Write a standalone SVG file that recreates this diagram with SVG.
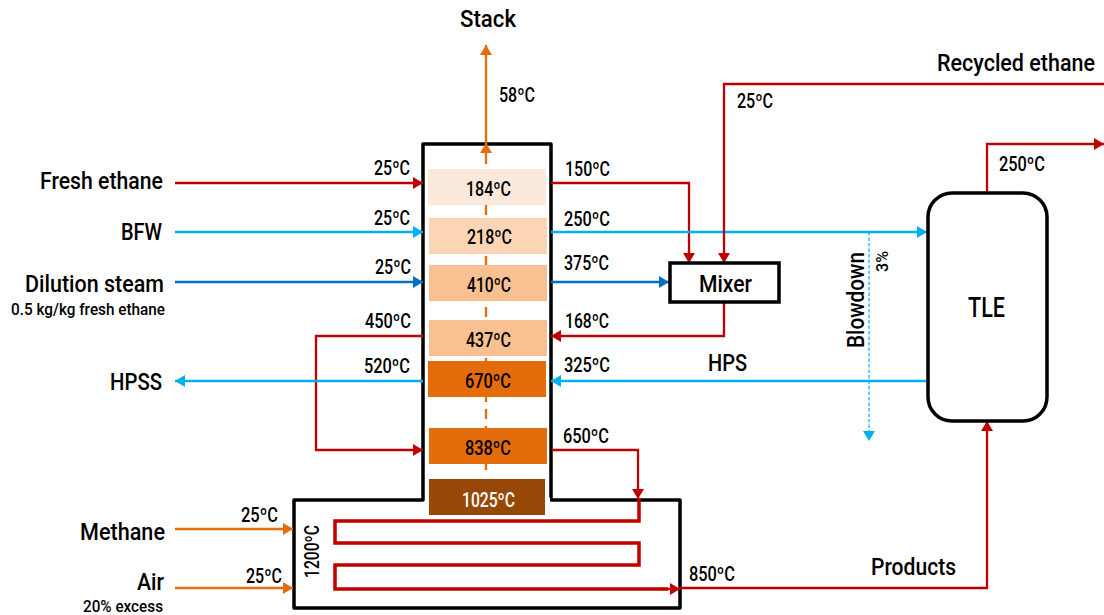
<svg xmlns="http://www.w3.org/2000/svg" width="1104" height="615" viewBox="0 0 1104 615">
<style>
text{font-family:"Roboto","Liberation Sans",sans-serif;fill:#000;font-weight:500}
.t{font-size:20px}.l{font-size:24.5px}.s{font-size:16.5px}
.box{fill:#fff;stroke:#000;stroke-width:3.5}
.c{fill:none;stroke-width:2.3;stroke-linejoin:miter}
.r{stroke:#C00000}.b{stroke:#00B0F0}.d{stroke:#0070C0}.o{stroke:#E46C0A}
</style>
<defs>
<marker id="mr" markerUnits="userSpaceOnUse" markerWidth="11" markerHeight="12" refX="10" refY="6" orient="auto"><path d="M0 0L10 6L0 12z" fill="#C00000"/></marker>
<marker id="mb" markerUnits="userSpaceOnUse" markerWidth="11" markerHeight="12" refX="10" refY="6" orient="auto"><path d="M0 0L10 6L0 12z" fill="#00B0F0"/></marker>
<marker id="md" markerUnits="userSpaceOnUse" markerWidth="11" markerHeight="12" refX="10" refY="6" orient="auto"><path d="M0 0L10 6L0 12z" fill="#0070C0"/></marker>
<marker id="mo" markerUnits="userSpaceOnUse" markerWidth="11" markerHeight="12" refX="10" refY="6" orient="auto"><path d="M0 0L10 6L0 12z" fill="#E46C0A"/></marker>
</defs>

<g id="furnace">
<path class="box" d="M423 144H551V500H680V608H294V500H423Z" stroke-linejoin="round"/>
<path d="M425 500H550" stroke="#fff" stroke-width="5" fill="none"/>
<text class="t" transform="translate(319 578) rotate(-90)" textLength="53" lengthAdjust="spacingAndGlyphs">1200ºC</text>
</g>

<g id="connectors">
<path class="c o" stroke-dasharray="10 7" d="M486 470V156"/>
<path class="c o" marker-end="url(#mo)" d="M486 144V45"/>
<path class="c o" marker-end="url(#mo)" d="M486 156V143"/>
<path class="c r" marker-end="url(#mr)" d="M175 183H423"/>
<path class="c b" marker-end="url(#mb)" d="M175 232H423"/>
<path class="c d" marker-end="url(#md)" d="M175 282H423"/>
<path class="c r" marker-end="url(#mr)" d="M551 183H689V263"/>
<path class="c b" marker-end="url(#mb)" d="M551 232H927"/>
<path class="c d" marker-end="url(#md)" d="M551 282H669"/>
<path class="c r" marker-end="url(#mr)" d="M1104 84H724V263"/>
<path class="c r" marker-end="url(#mr)" d="M724 303V336H551"/>
<path class="c r" marker-end="url(#mr)" d="M423 336H316V450H423"/>
<path class="c b" marker-end="url(#mb)" d="M927 381H551"/>
<path class="c b" marker-end="url(#mb)" d="M423 381H175"/>
<path class="c r" marker-end="url(#mr)" d="M552 450H638V499"/>
<path class="c r" style="stroke-width:3.5" d="M639 499V521H335V543H639V565H335V589H668"/>
<path class="c r" marker-end="url(#mr)" d="M660 589H680"/>
<path class="c r" marker-end="url(#mr)" d="M680 588H987V421"/>
<path class="c r" marker-end="url(#mr)" d="M987 193V144H1104"/>
<path class="c b" style="stroke-width:1.2" stroke-dasharray="3.5 2" marker-end="url(#mb)" d="M869 232V441"/>
<path class="c o" marker-end="url(#mo)" d="M175 529H293"/>
<path class="c o" marker-end="url(#mo)" d="M175 588H293"/>
</g>

<g id="cell-184"><rect x="428" y="169" width="118" height="36" fill="#FBE9DC"/><text class="t" x="466" y="195.500" textLength="45" lengthAdjust="spacingAndGlyphs">184ºC</text></g>
<g id="cell-218"><rect x="429" y="218" width="118" height="36" fill="#FBD5B5"/><text class="t" x="467" y="243.500" textLength="45" lengthAdjust="spacingAndGlyphs">218ºC</text></g>
<g id="cell-410"><rect x="429" y="265" width="118" height="36" fill="#F9C091"/><text class="t" x="467" y="291.500" textLength="44" lengthAdjust="spacingAndGlyphs">410ºC</text></g>
<g id="cell-437"><rect x="429" y="320" width="118" height="36" fill="#F9C091"/><text class="t" x="466" y="347" textLength="45" lengthAdjust="spacingAndGlyphs">437ºC</text></g>
<g id="cell-670"><rect x="428" y="361" width="118" height="36" fill="#E46C0A"/><text class="t" x="465" y="388" textLength="46" lengthAdjust="spacingAndGlyphs">670ºC</text></g>
<g id="cell-838"><rect x="429" y="428" width="118" height="36" fill="#E46C0A"/><text class="t" x="465" y="454.500" textLength="46" lengthAdjust="spacingAndGlyphs">838ºC</text></g>
<g id="cell-1025"><rect x="429" y="479" width="116" height="36" fill="#974706"/><text class="t" x="462" y="506.500" textLength="53" lengthAdjust="spacingAndGlyphs" style="fill:#fff">1025ºC</text></g>

<g id="mixer"><rect class="box" x="670" y="263" width="109" height="39"/><text x="699" y="292" class="l" textLength="53" lengthAdjust="spacingAndGlyphs">Mixer</text></g>
<g id="tle"><rect class="box" x="928" y="193" width="119" height="228" rx="24"/><text x="968" y="317" style="font-size:28px" textLength="37" lengthAdjust="spacingAndGlyphs">TLE</text></g>

<g id="labels">
<text class="l" x="460" y="27" textLength="56" lengthAdjust="spacingAndGlyphs">Stack</text>
<text class="t" x="499" y="102" textLength="36" lengthAdjust="spacingAndGlyphs">58ºC</text>
<text class="l" x="40" y="189" textLength="123" lengthAdjust="spacingAndGlyphs">Fresh ethane</text>
<text class="l" x="121" y="240" textLength="41" lengthAdjust="spacingAndGlyphs">BFW</text>
<text class="l" x="25" y="292" textLength="139" lengthAdjust="spacingAndGlyphs">Dilution steam</text>
<text class="s" x="11" y="315" textLength="154" lengthAdjust="spacingAndGlyphs">0.5 kg/kg fresh ethane</text>
<text class="l" x="110" y="390" textLength="52" lengthAdjust="spacingAndGlyphs">HPSS</text>
<text class="l" x="80" y="540" textLength="85" lengthAdjust="spacingAndGlyphs">Methane</text>
<text class="l" x="137" y="589.500" textLength="27" lengthAdjust="spacingAndGlyphs">Air</text>
<text class="s" x="83" y="612" textLength="80" lengthAdjust="spacingAndGlyphs">20% excess</text>
<text class="t" x="374" y="175" textLength="36" lengthAdjust="spacingAndGlyphs">25ºC</text>
<text class="t" x="374" y="225" textLength="36" lengthAdjust="spacingAndGlyphs">25ºC</text>
<text class="t" x="375" y="274" textLength="36" lengthAdjust="spacingAndGlyphs">25ºC</text>
<text class="t" x="365" y="328" textLength="46" lengthAdjust="spacingAndGlyphs">450ºC</text>
<text class="t" x="364" y="373" textLength="46" lengthAdjust="spacingAndGlyphs">520ºC</text>
<text class="t" x="565" y="176" textLength="45" lengthAdjust="spacingAndGlyphs">150ºC</text>
<text class="t" x="564" y="226" textLength="46" lengthAdjust="spacingAndGlyphs">250ºC</text>
<text class="t" x="564" y="270" textLength="45" lengthAdjust="spacingAndGlyphs">375ºC</text>
<text class="t" x="565" y="328" textLength="44" lengthAdjust="spacingAndGlyphs">168ºC</text>
<text class="t" x="564" y="372" textLength="46" lengthAdjust="spacingAndGlyphs">325ºC</text>
<text class="t" x="563" y="443" textLength="46" lengthAdjust="spacingAndGlyphs">650ºC</text>
<text class="t" x="241" y="522" textLength="37" lengthAdjust="spacingAndGlyphs">25ºC</text>
<text class="t" x="246" y="583" textLength="36" lengthAdjust="spacingAndGlyphs">25ºC</text>
<text class="t" x="689" y="581" textLength="46" lengthAdjust="spacingAndGlyphs">850ºC</text>
<text class="t" x="737" y="108" textLength="36" lengthAdjust="spacingAndGlyphs">25ºC</text>
<text class="t" x="999" y="171" textLength="46" lengthAdjust="spacingAndGlyphs">250ºC</text>
<text class="l" transform="translate(937 71) scale(.85 1)" textLength="185.900" lengthAdjust="spacingAndGlyphs">Recycled ethane</text>
<text class="l" x="708" y="371" textLength="39" lengthAdjust="spacingAndGlyphs">HPS</text>
<text class="l" x="871" y="575" textLength="85" lengthAdjust="spacingAndGlyphs">Products</text>
<text class="l" transform="translate(864 348) rotate(-90)" textLength="96" lengthAdjust="spacingAndGlyphs">Blowdown</text>
<text class="s" transform="translate(888 272) rotate(-90)" textLength="21" lengthAdjust="spacingAndGlyphs">3%</text>
</g>
</svg>
